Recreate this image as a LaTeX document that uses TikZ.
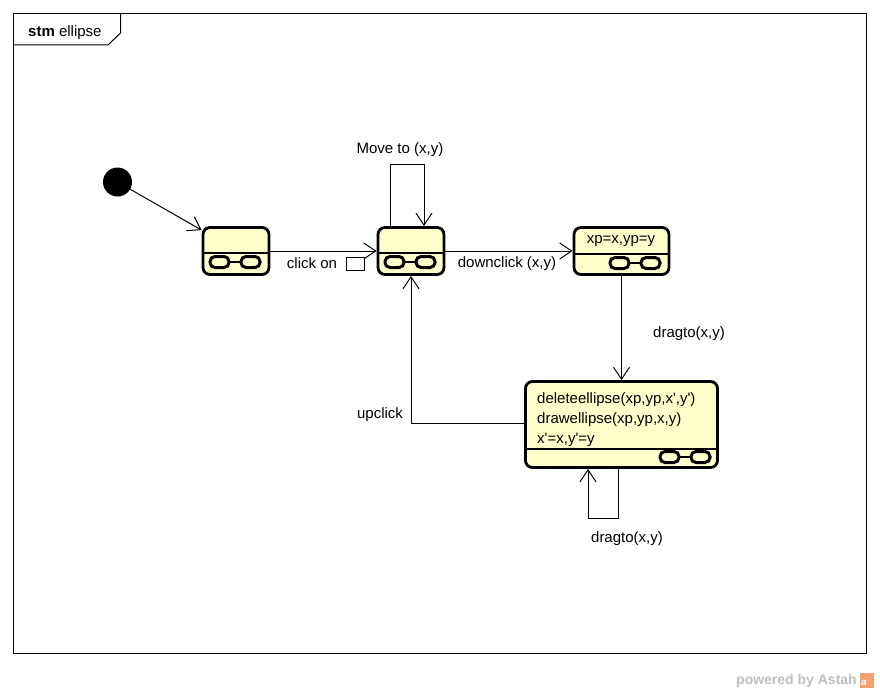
\documentclass[tikz,border=0pt]{standalone}
\usepackage{fontspec}
\setmainfont{Liberation Sans}[Ligatures=TeXOff]
\usetikzlibrary{arrows.meta}
\definecolor{stfill}{RGB}{255,255,204}
\definecolor{wmgray}{RGB}{190,190,190}
\definecolor{wmorange}{RGB}{242,160,112}
\begin{document}
\begin{tikzpicture}[x=1pt,y=-1pt,
  every node/.style={font=\fontsize{15}{20}\selectfont, inner sep=0pt},
  state/.style={draw, line width=2.8pt, rounded corners=7pt, fill=stfill},
  divider/.style={line width=1.6pt},
  arr/.style={line width=1pt, -{Straight Barb[length=12pt,width=16pt,line width=1pt]}},
  icon/.pic={
    \draw[line width=3pt, rounded corners=5pt] (-25,-5.5) rectangle (-6,5.5);
    \draw[line width=3pt, rounded corners=5pt] (6,-5.5) rectangle (25,5.5);
    \draw[line width=2pt] (-6,0) -- (6,0);
  }
]
\useasboundingbox (0,0) rectangle (880,693);

% diagram frame with its name tab
\draw[line width=1pt] (13.5,13.5) rectangle (866.5,653.5);
\draw[line width=1pt] (13.5,45) -- (108,45) -- (120.5,33) -- (120.5,13.5);
\node[anchor=base west] (title) at (28,37) {\textbf{stm} ellipse};

% initial pseudo-state
\node[circle, fill=black, minimum size=29pt] (init) at (117.5,182) {};

% states
\node[state, minimum width=66pt, minimum height=47pt] (s1) at (236,251) {};
\draw[divider] ([yshift=-2pt]s1.west) -- ([yshift=-2pt]s1.east);
\pic at (235,262) {icon};

\node[state, minimum width=66pt, minimum height=47pt] (s2) at (411,251) {};
\draw[divider] ([yshift=-2pt]s2.west) -- ([yshift=-2pt]s2.east);
\pic at (410,262) {icon};

\node[state, minimum width=95pt, minimum height=47pt] (s3) at (621.5,251) {};
\draw[divider] ([yshift=-3pt]s3.west) -- ([yshift=-3pt]s3.east);
\node (s3name) at (621,241) {xp=x,yp=y};
\pic at (635,263) {icon};

\node[state, minimum width=192pt, minimum height=86pt] (s4) at (621.5,424.5) {};
\draw[divider] ([yshift=-24.5pt]s4.west) -- ([yshift=-24.5pt]s4.east);
\node[anchor=base west] (s4a) at (537,403) {deleteellipse(xp,yp,x',y')};
\node[anchor=base west] (s4b) at (537,423) {drawellipse(xp,yp,x,y)};
\node[anchor=base west] (s4c) at (537,443) {x'=x,y'=y};
\pic at (685,457) {icon};

% transitions
\draw[arr] (init) -- ([yshift=-4pt]s1.north west);

\draw[arr] (s1.east) -- (s2.west);
\node (lclick) at (312,263) {click on};
\node[draw, line width=0.8pt, fill=white, minimum width=18pt, minimum height=13pt] (trig) at (355,263.5) {};

\coordinate (loop2) at (424,164);
\draw[arr] ([xshift=-21pt]s2.north) |- (loop2) -- (loop2 |- s2.north);
\node (lmove) at (400,150) {Move to (x,y)};

\draw[arr] (s2.east) -- (s3.west);
\node (ldown) at (507,264) {downclick (x,y)};

\draw[arr] (s3.south) -- (s4.north);
\node (ldrag1) at (689,334) {dragto(x,y)};

\draw[arr] ([yshift=1.5pt]s4.west) -| (s2.south);
\node (lup) at (380,415) {upclick};

\coordinate (loop4) at (588,518);
\draw[arr] ([xshift=-3.5pt]s4.south) |- (loop4) -- (loop4 |- s4.south);
\node (ldrag2) at (627,539) {dragto(x,y)};

% tool watermark
\node[anchor=base west, font=\fontsize{14}{16}\selectfont\bfseries, text=wmgray] (wm) at (736,684) {powered by Astah};
\fill[wmorange] (860,673) rectangle (874,688);
\node[font=\fontsize{10}{10}\selectfont\bfseries, text=white] (wma) at (864,683) {a};
\end{tikzpicture}
\end{document}
